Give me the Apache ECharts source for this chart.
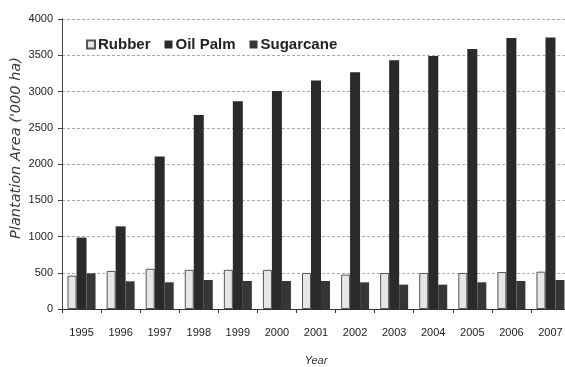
<!DOCTYPE html>
<html>
<head>
<meta charset="utf-8">
<script src="https://cdn.jsdelivr.net/npm/echarts@6/dist/echarts.min.js"></script>
<style>
html,body{margin:0;padding:0;background:#fff;}
#c{width:565px;height:367px;}
</style>
</head>
<body>
<div id="c"></div>
<script>
const years = ['1995','1996','1997','1998','1999','2000','2001','2002','2003','2004','2005','2006','2007'];
const rubber = [460, 525, 555, 540, 540, 540, 497, 475, 497, 497, 497, 510, 515];
const oilPalm = [985, 1140, 2105, 2676, 2864, 3007, 3153, 3264, 3430, 3490, 3587, 3739, 3745];
const sugarcane = [492, 382, 368, 400, 386, 386, 386, 368, 336, 336, 368, 386, 400];
const yTicks = [0, 500, 1000, 1500, 2000, 2500, 3000, 3500, 4000];
const yTitle = "Plantation Area ('000 ha)";

const chart = echarts.init(document.getElementById('c'));
const font = 'Liberation Sans, Arial, sans-serif';
chart.setOption({
  animation: false,
  backgroundColor: '#ffffff',
  textStyle: { fontFamily: font },
  legend: {
    left: 81, top: 32,
    itemWidth: 8, itemHeight: 8, itemGap: 14,
    icon: 'rect',
    textStyle: { fontSize: 15, fontWeight: 'bold', color: '#222', fontFamily: font, padding: [0,0,0,-2] },
    data: ['Rubber', 'Oil Palm', 'Sugarcane']
  },
  graphic: [{
    type: 'text',
    x: 16, y: 148,
    rotation: Math.PI / 2,
    style: {
      text: yTitle,
      fontStyle: 'italic', fontSize: 14.5,
      fontFamily: 'DejaVu Sans, sans-serif',
      fill: '#3a3a3a',
      align: 'center', verticalAlign: 'middle'
    }
  }],
  grid: { left: 62, top: 19, width: 508, bottom: 58, containLabel: false, outerBoundsMode: 'none' },
  xAxis: {
    type: 'category',
    data: years,
    name: 'Year',
    nameLocation: 'middle',
    nameGap: 46,
    nameTextStyle: { fontStyle: 'italic', fontSize: 11, color: '#333', fontFamily: font },
    axisLine: { lineStyle: { color: '#333', width: 1 } },
    axisTick: { show: true, length: 4, lineStyle: { color: '#333' } },
    axisLabel: { fontSize: 11, color: '#222', margin: 18, fontFamily: font, interval: 0 }
  },
  yAxis: {
    type: 'value',
    min: yTicks[0], max: yTicks[yTicks.length - 1], interval: 500,
    axisLine: { show: true, lineStyle: { color: '#444', width: 1 } },
    axisTick: { show: true, length: 4, lineStyle: { color: '#444' } },
    axisLabel: { fontSize: 11, color: '#222', margin: 9, fontFamily: font, formatter: v => String(v) },
    splitLine: { show: true, lineStyle: { color: '#aaa', type: [3, 2], width: 1 } }
  },
  series: [
    { name: 'Rubber', type: 'bar', data: rubber, barWidth: 9, barGap: '0%',
      itemStyle: { color: '#e6e6e6', borderColor: '#555', borderWidth: 1 } },
    { name: 'Oil Palm', type: 'bar', data: oilPalm, barWidth: 10, barGap: '0%',
      itemStyle: { color: '#2a2a2a' } },
    { name: 'Sugarcane', type: 'bar', data: sugarcane, barWidth: 9, barGap: '0%',
      itemStyle: { color: '#363636' } }
  ]
});
</script>
</body>
</html>
